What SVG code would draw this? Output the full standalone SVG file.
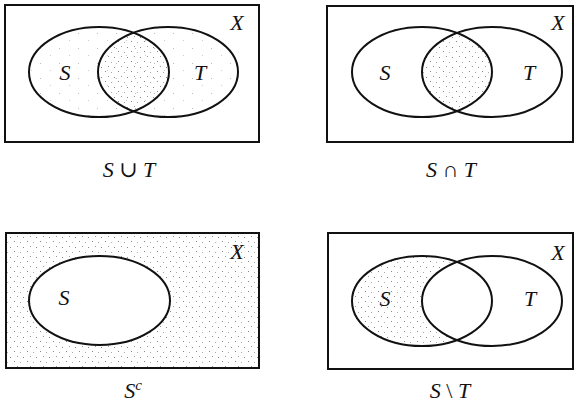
<svg xmlns="http://www.w3.org/2000/svg" width="574" height="412" viewBox="0 0 574 412">
<defs>
<style>
.frame{fill:none;stroke:#111;stroke-width:2}
.ell{fill:none;stroke:#111;stroke-width:2}
</style>
<pattern id="dots" width="13" height="10" patternUnits="userSpaceOnUse">
<rect x="1" y="1" width="1" height="1" fill="#888"/>
<rect x="7" y="2" width="1" height="1" fill="#aaa"/>
<rect x="4" y="6" width="1" height="1" fill="#999"/>
<rect x="10" y="7" width="1" height="1" fill="#888"/>
</pattern>
<pattern id="sparse" width="19" height="15" patternUnits="userSpaceOnUse">
<rect x="2" y="3" width="1" height="1" fill="#bbb"/>
<rect x="12" y="10" width="1" height="1" fill="#ccc"/>
</pattern>
<clipPath id="cS1"><ellipse cx="99" cy="72" rx="70" ry="45"/></clipPath>
<clipPath id="cS2"><ellipse cx="422" cy="72" rx="70" ry="45"/></clipPath>
<mask id="mDiff"><rect x="328" y="233" width="246" height="136" fill="#fff"/><ellipse cx="492" cy="301" rx="70" ry="45" fill="#000"/></mask>
<mask id="mComp"><rect x="6" y="233" width="253" height="135" fill="#fff"/><ellipse cx="99.5" cy="300.5" rx="70.5" ry="44.5" fill="#000"/></mask>
</defs>

<g font-family="Liberation Serif, DejaVu Serif, serif" fill="#111" text-anchor="middle" font-size="22">
<g id="union">
<ellipse cx="99" cy="72" rx="70" ry="45" fill="url(#sparse)"/>
<ellipse cx="168" cy="72" rx="70" ry="45" fill="url(#sparse)"/>
<ellipse cx="168" cy="72" rx="70" ry="45" fill="url(#dots)" clip-path="url(#cS1)"/>
<rect class="frame" x="5" y="5" width="254" height="137"/>
<ellipse class="ell" cx="99" cy="72" rx="70" ry="45"/>
<ellipse class="ell" cx="168" cy="72" rx="70" ry="45"/>
<text x="65" y="80" font-style="italic">S</text>
<text x="200" y="80" font-style="italic">T</text>
<text x="237" y="30" font-style="italic">X</text>
<text x="129" y="177"><tspan font-style="italic">S</tspan> ∪ <tspan font-style="italic">T</tspan></text>
</g>

<g id="intersection">
<ellipse cx="492" cy="72" rx="70" ry="45" fill="url(#dots)" clip-path="url(#cS2)"/>
<rect class="frame" x="327" y="6" width="246" height="136"/>
<ellipse class="ell" cx="422" cy="72" rx="70" ry="45"/>
<ellipse class="ell" cx="492" cy="72" rx="70" ry="45"/>
<text x="385" y="80" font-style="italic">S</text>
<text x="529" y="80" font-style="italic">T</text>
<text x="558" y="30" font-style="italic">X</text>
<text x="451" y="177"><tspan font-style="italic">S</tspan> ∩ <tspan font-style="italic">T</tspan></text>
</g>

<g id="complement">
<rect x="6" y="233" width="253" height="135" fill="url(#dots)" mask="url(#mComp)"/>
<rect class="frame" x="6" y="233" width="253" height="135"/>
<ellipse class="ell" cx="99.5" cy="300.5" rx="70.5" ry="44.5"/>
<text x="64" y="305" font-style="italic">S</text>
<text x="237" y="259" font-style="italic">X</text>
<text x="133" y="398"><tspan font-style="italic">S</tspan><tspan font-size="15" dy="-8" font-style="italic">c</tspan></text>
</g>

<g id="difference">
<ellipse cx="422" cy="301" rx="70" ry="45" fill="url(#dots)" mask="url(#mDiff)"/>
<rect class="frame" x="328" y="233" width="245" height="136"/>
<ellipse class="ell" cx="422" cy="301" rx="70" ry="45"/>
<ellipse class="ell" cx="492" cy="301" rx="70" ry="45"/>
<text x="385" y="306" font-style="italic">S</text>
<text x="530" y="306" font-style="italic">T</text>
<text x="558" y="260" font-style="italic">X</text>
<text x="450" y="398"><tspan font-style="italic">S</tspan> \ <tspan font-style="italic">T</tspan></text>
</g>
</g>
</svg>
